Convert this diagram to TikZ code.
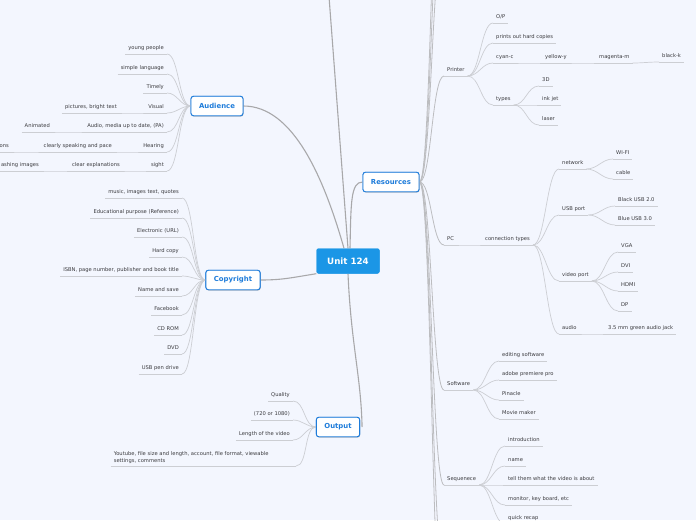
\documentclass[tikz,border=0pt]{standalone}
\usepackage{fontspec}
\setmainfont{DejaVu Sans}
\usetikzlibrary{shadows}
\definecolor{paper}{RGB}{243,246,254}
\definecolor{rootblue}{RGB}{27,150,230}
\definecolor{topicblue}{RGB}{30,124,218}
\definecolor{leaftext}{RGB}{58,58,62}
\definecolor{branchgray}{RGB}{168,168,170}
\definecolor{limbgray}{RGB}{188,189,192}
\definecolor{twiggray}{RGB}{204,206,211}

\begin{document}
\begin{tikzpicture}[x=1pt,y=-1pt,
    root/.style={fill=rootblue,rounded corners=2pt,text=white,
      font=\bfseries\fontsize{8.7}{10}\selectfont,minimum width=63pt,minimum height=25pt},
    topic/.style={draw=topicblue,fill=white,line width=0.9pt,rounded corners=2.5pt,
      text=topicblue,font=\bfseries\fontsize{6.9}{8}\selectfont,inner xsep=8pt,
      minimum height=19.5pt,drop shadow={shadow xshift=0.5pt,shadow yshift=-0.8pt,opacity=0.25}},
    leafbase/.style={text=leaftext,font=\fontsize{5.2}{7}\selectfont,inner xsep=3pt,inner ysep=2.5pt,
      append after command={(\tikzlastnode.south west) edge[ul] (\tikzlastnode.south east)}},
    rleaf/.style={leafbase,anchor=south west,text height=4pt,text depth=1.5pt},
    lleaf/.style={leafbase,anchor=south east,text height=4pt,text depth=1.5pt},
    ul/.style={draw=twiggray,line width=0.6pt},
    branch/.style={draw=branchgray,line width=1.1pt},
    limb/.style={draw=limbgray,line width=0.8pt},
    twig/.style={draw=twiggray,line width=0.7pt},
    rto/.style={out=0,in=180,max distance=12pt},
    lto/.style={out=180,in=0,max distance=12pt}]
  \fill[paper] (0,0) rectangle (696,520);
  \clip (0,0) rectangle (696,520);

  % main topics
  \node[root] (unit) at (348,261) {Unit 124};
  \node[topic] (aud) at (217,106) {Audience};
  \node[topic] (res) at (391,182) {Resources};
  \node[topic] (copy) at (233,280) {Copyright};
  \node[topic] (outp) at (338,427) {Output};
  \coordinate (unitup) at (327,-30);

  % Audience
  \node[lleaf] (young) at (167,54) {young people};
  \node[lleaf] (simple) at (167,74) {simple language};
  \node[lleaf] (timely) at (167,93) {Timely};
  \node[lleaf] (visual) at (167,113) {Visual};
  \node[lleaf] (pics) at (120,113) {pictures, bright text};
  \node[lleaf] (media) at (167,132) {Audio, media up to date, (PA)};
  \node[lleaf] (anim) at (53,132) {Animated};
  \node[lleaf] (hear) at (167,152) {Hearing};
  \node[lleaf] (speak) at (115,152) {clearly speaking and pace};
  \node[lleaf] (ons) at (12,152) {ons};
  \node[lleaf] (sight) at (167,171) {sight};
  \node[lleaf] (clear) at (123,171) {clear explanations};
  \node[lleaf] (flash) at (42,171) {ashing images};

  % Copyright
  \node[lleaf] (music) at (182,198) {music, images text, quotes};
  \node[lleaf] (edu) at (182,218) {Educational purpose (Reference)};
  \node[lleaf] (elec) at (182,237) {Electronic (URL)};
  \node[lleaf] (hard) at (182,257) {Hard copy};
  \node[lleaf] (isbn) at (182,276) {ISBN, page number, publisher and book title};
  \node[lleaf] (namesave) at (182,296) {Name and save};
  \node[lleaf] (fb) at (182,315) {Facebook};
  \node[lleaf] (cd) at (182,335) {CD ROM};
  \node[lleaf] (dvd) at (182,354) {DVD};
  \node[lleaf] (usb) at (182,374) {USB pen drive};

  % Output
  \node[lleaf] (quality) at (293,401) {Quality};
  \node[lleaf] (hd) at (293,420) {(720 or 1080)};
  \node[lleaf] (length) at (293,440) {Length of the video};
  \node[leafbase,anchor=south east,text width=179pt,align=left] (youtube) at (296,466)
    {Youtube, file size and length, account, file format, viewable\\settings, comments};

  % Resources: Printer
  \node[rleaf] (printer) at (444,76) {Printer};
  \node[rleaf] (op) at (493,23) {O/P};
  \node[rleaf] (prints) at (493,43) {prints out hard copies};
  \node[rleaf] (cyan) at (493,63) {cyan-c};
  \node[rleaf] (yellow) at (542,63) {yellow-y};
  \node[rleaf] (magenta) at (596,63) {magenta-m};
  \node[rleaf] (blackk) at (659,62) {black-k};
  \node[rleaf] (types) at (493,105) {types};
  \node[rleaf] (threed) at (539,86) {3D};
  \node[rleaf] (inkjet) at (539,105) {ink jet};
  \node[rleaf] (laser) at (539,125) {laser};

  % Resources: PC
  \node[rleaf] (pc) at (444,245) {PC};
  \node[rleaf] (ctypes) at (482,245) {connection types};
  \node[rleaf] (network) at (559,169) {network};
  \node[rleaf] (wifi) at (613,159) {WI-FI};
  \node[rleaf] (cable) at (613,179) {cable};
  \node[rleaf] (usbport) at (559,215) {USB port};
  \node[rleaf] (usbtwo) at (615,206) {Black USB 2.0};
  \node[rleaf] (usbthree) at (615,225) {Blue USB 3.0};
  \node[rleaf] (video) at (559,281) {video port};
  \node[rleaf] (vga) at (618,252) {VGA};
  \node[rleaf] (dvi) at (618,272) {DVI};
  \node[rleaf] (hdmi) at (618,291) {HDMI};
  \node[rleaf] (dp) at (618,311) {DP};
  \node[rleaf] (audioport) at (559,334) {audio};
  \node[rleaf] (jack) at (605,334) {3.5 mm green audio jack};

  % Resources: Software and Sequenece
  \node[rleaf] (soft) at (444,390) {Software};
  \node[rleaf] (editing) at (499,361) {editing software};
  \node[rleaf] (premiere) at (499,380) {adobe premiere pro};
  \node[rleaf] (pinacle) at (499,400) {Pinacle};
  \node[rleaf] (movie) at (499,419) {Movie maker};
  \node[rleaf] (seq) at (444,485) {Sequenece};
  \node[rleaf] (intro) at (505,446) {introduction};
  \node[rleaf] (seqname) at (505,466) {name};
  \node[rleaf] (tell) at (505,485) {tell them what the video is about};
  \node[rleaf] (monitor) at (505,505) {monitor, key board, etc};
  \node[rleaf] (recap) at (505,524) {quick recap};

  % children of Resources beyond the page
  \coordinate (up1) at (444,-60);
  \coordinate (up2) at (444,-130);
  \coordinate (up3) at (444,-210);
  \coordinate (down1) at (444,570);
  \coordinate (down2) at (444,640);

  % connectors
  \draw[branch] (unitup) -- (unit.north);
  \draw[branch] ([xshift=-4pt]unit.north) .. controls +(-20,-70) and +(50,0) .. (aud.east);
  \draw[branch] ([xshift=2pt]unit.north) .. controls +(1,-45) and +(-12,0) .. (res.west);
  \draw[branch] (unit.south west) .. controls +(-25,4) and +(22,0) .. (copy.east);
  \draw[branch] (unit.south) .. controls +(3,70) and +(-1,-50) .. ([xshift=2pt]outp.east);

  \path[limb]
    (res.east) edge[rto] (up1) edge[rto] (up2) edge[rto] (up3)
               edge[rto] (printer.south west) edge[rto] (pc.south west)
               edge[rto] (soft.south west) edge[rto] (seq.south west)
               edge[rto] (down1) edge[rto] (down2);

  \path[twig]
    (aud.west) edge[lto] (young.south east) edge[lto] (simple.south east)
               edge[lto] (timely.south east) edge[lto] (visual.south east)
               edge[lto] (media.south east) edge[lto] (hear.south east)
               edge[lto] (sight.south east)
    (visual.south west) edge[lto] (pics.south east)
    (media.south west) edge[lto] (anim.south east)
    (hear.south west) edge[lto] (speak.south east)
    (speak.south west) edge[lto] (ons.south east)
    (sight.south west) edge[lto] (clear.south east)
    (clear.south west) edge[lto] (flash.south east);

  \path[twig]
    (copy.west) edge[lto] (music.south east) edge[lto] (edu.south east)
                edge[lto] (elec.south east) edge[lto] (hard.south east)
                edge[lto] (isbn.south east) edge[lto] (namesave.south east)
                edge[lto] (fb.south east) edge[lto] (cd.south east)
                edge[lto] (dvd.south east) edge[lto] (usb.south east)
    (outp.west) edge[lto] (quality.south east) edge[lto] (hd.south east)
                edge[lto] (length.south east) edge[lto] (youtube.south east);

  \path[twig]
    (printer.south east) edge[rto] (op.south west) edge[rto] (prints.south west)
                         edge[rto] (cyan.south west) edge[rto] (types.south west)
    (cyan.south east) edge[rto] (yellow.south west)
    (yellow.south east) edge[rto] (magenta.south west)
    (magenta.south east) edge[rto] (blackk.south west)
    (types.south east) edge[rto] (threed.south west) edge[rto] (inkjet.south west)
                       edge[rto] (laser.south west)
    (pc.south east) edge[rto] (ctypes.south west)
    (ctypes.south east) edge[rto] (network.south west) edge[rto] (usbport.south west)
                        edge[rto] (video.south west) edge[rto] (audioport.south west)
    (network.south east) edge[rto] (wifi.south west) edge[rto] (cable.south west)
    (usbport.south east) edge[rto] (usbtwo.south west) edge[rto] (usbthree.south west)
    (video.south east) edge[rto] (vga.south west) edge[rto] (dvi.south west)
                       edge[rto] (hdmi.south west) edge[rto] (dp.south west)
    (audioport.south east) edge[rto] (jack.south west)
    (soft.south east) edge[rto] (editing.south west) edge[rto] (premiere.south west)
                      edge[rto] (pinacle.south west) edge[rto] (movie.south west)
    (seq.south east) edge[rto] (intro.south west) edge[rto] (seqname.south west)
                     edge[rto] (tell.south west) edge[rto] (monitor.south west)
                     edge[rto] (recap.south west);

  % boxes on top of the lines
  \node[root] at (unit) {Unit 124};
  \node[topic] at (aud) {Audience};
  \node[topic] at (res) {Resources};
  \node[topic] at (copy) {Copyright};
  \node[topic] at (outp) {Output};
\end{tikzpicture}
\end{document}
